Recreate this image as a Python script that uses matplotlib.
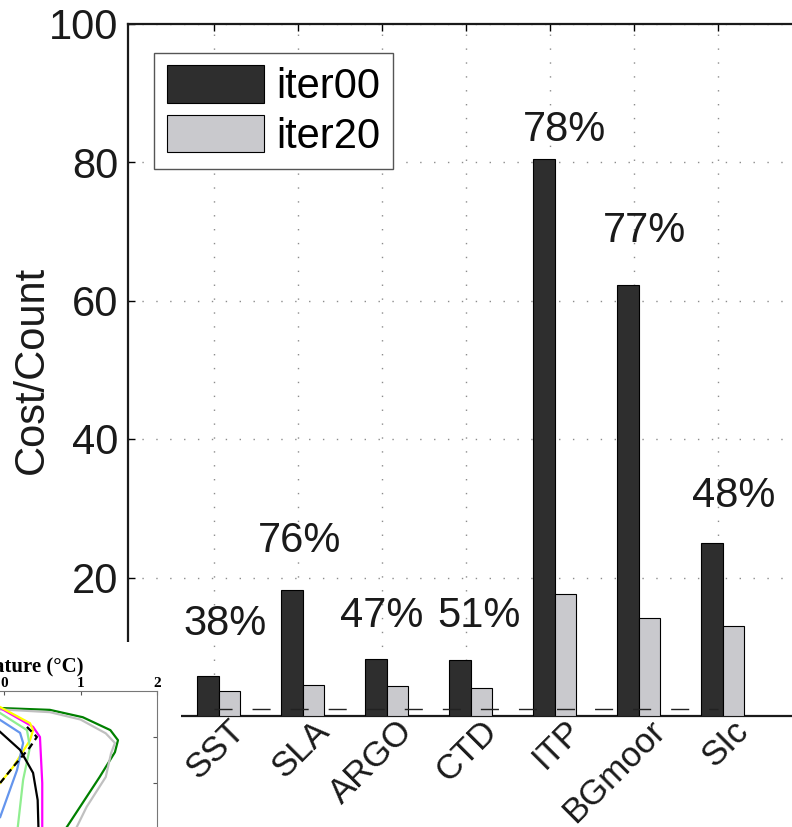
import numpy as np
import matplotlib
matplotlib.use('Agg')
import matplotlib.pyplot as plt
from matplotlib.patches import Rectangle
from matplotlib.transforms import ScaledTranslation

plt.rcParams['font.family'] = ['Liberation Sans', 'DejaVu Sans']

# data
categories = ['SST', 'SLA', 'ARGO', 'CTD', 'ITP', 'BGmoor', 'SIc']
iter00 = [5.8, 18.2, 8.2, 8.1, 80.4, 62.2, 25.0]
iter20 = [3.6, 4.5, 4.4, 4.0, 17.6, 14.2, 13.0]
reduction = ['38%', '76%', '47%', '51%', '78%', '77%', '48%']
ref_level = 1.0

# where the percentage labels sit (data coords)
label_x = [1.13, 2.02, 3.0, 4.15, 5.17, 6.13, 7.19]
label_y = [11.7, 23.7, 12.9, 12.9, 83.0, 68.4, 30.2]

# profile curves of the neighbouring figure (temperature, depth)
inset_curves = {
    'green':  ([-0.05, 0.60, 1.03, 1.39, 1.49, 1.45, 1.25, 0.82],
               [37, 41, 57, 85, 107, 133, 187, 296]),
    'silver': ([-0.05, 0.60, 1.00, 1.33, 1.45, 1.40, 1.33, 1.08, 0.95],
               [40, 46, 62, 92, 113, 135, 187, 252, 296]),
    'magenta': ([-0.05, 0.38, 0.47, 0.50, 0.50],
                [37, 78, 100, 200, 296]),
    'yellow': ([-0.05, 0.34, 0.38, 0.34, 0.12, -0.05],
               [35, 70, 85, 107, 165, 200]),
    'lightgreen': ([-0.05, 0.30, 0.34, 0.25, 0.18],
                   [48, 85, 122, 193, 296]),
    'cornflowerblue': ([-0.05, 0.21, 0.25, 0.17, -0.05],
                       [63, 91, 113, 172, 274]),
    'black': ([-0.05, 0.21, 0.38, 0.44, 0.45],
              [89, 128, 178, 237, 296]),
}
dashed_curve = ([0.30, 0.43, 0.34, 0.12, -0.05], [78, 100, 122, 165, 200])

W, H = 792, 827
fig = plt.figure(figsize=(W / 100, H / 100), dpi=100)
ax = fig.add_axes([128 / W, 1 - 716 / H, (802 - 128) / W, (716 - 23.5) / H])

x = np.arange(1, len(categories) + 1)
bw = 0.255
ax.bar(x - 0.07, iter00, bw, color='#2e2e2e', edgecolor='black', linewidth=0.8,
       label='iter00', zorder=3)
ax.bar(x + 0.185, iter20, bw, color='#c9c9cd', edgecolor='black', linewidth=0.8,
       label='iter20', zorder=3)
ax.plot([x[0], x[-1]], [ref_level, ref_level], color='#222222', lw=1.0,
        linestyle=(0, (13, 14.4)), zorder=4)

for xs, ys, txt in zip(label_x, label_y, reduction):
    ax.text(xs, ys, txt, ha='center', va='baseline', fontsize=30, color='#1a1a1a',
            zorder=5)

ax.set_xlim(-0.024, 8.0)
ax.set_ylim(0, 100)
ax.set_yticks(np.arange(0, 101, 20))
ax.set_xticks(x)
ax.set_xticklabels(categories, rotation=45, ha='right', rotation_mode='anchor',
                   color='#1a1a1a')
ax.tick_params(axis='both', direction='in', length=5, width=1, top=True, right=True,
               labelcolor='#1a1a1a')
ax.tick_params(axis='y', pad=7, labelsize=30)
ax.tick_params(axis='x', pad=0, labelsize=25)
shift = ScaledTranslation(0.14, 0.02, fig.dpi_scale_trans)
for lab in ax.get_xticklabels():
    lab.set_transform(lab.get_transform() + shift)
ax.set_ylabel('Cost/Count', fontsize=30, color='#1a1a1a')
ax.yaxis.set_label_coords(-0.113, 0.5)
ax.grid(True, color='#8c8c8c', linestyle=(0, (1, 9)), linewidth=1.0, zorder=0)
ax.set_axisbelow(True)
for s in ax.spines.values():
    s.set_linewidth(1.6)
    s.set_color('#1a1a1a')

leg = ax.legend(loc='upper left', bbox_to_anchor=(154 / W, 1 - 53 / H),
                bbox_transform=fig.transFigure, borderaxespad=0, fontsize=30,
                handlelength=2.33, handleheight=1.0, handletextpad=0.3,
                borderpad=0.3, labelspacing=0.18, fancybox=False, framealpha=1)
leg.get_frame().set_edgecolor('#555555')
leg.get_frame().set_linewidth(1.0)

# corner of the neighbouring figure that overlaps this one
fig.add_artist(Rectangle((0, 0), 181 / W, 1 - 642 / H, transform=fig.transFigure,
                         facecolor='white', edgecolor='none', zorder=1))
ax2 = fig.add_axes([-149 / W, 1 - 875 / H, 306 / W, 184 / H], zorder=2)
for name, (tx, dz) in inset_curves.items():
    ax2.plot(tx, dz, color=name, lw=1.6)
ax2.plot(*dashed_curve, color='black', lw=1.6, linestyle=(0, (3, 2)))
ax2.set_xlim(-2, 2)
ax2.set_ylim(400, 0)
ax2.set_xticks([-2, -1, 0, 1, 2])
ax2.set_yticks([100, 200, 300])
ax2.xaxis.tick_top()
ax2.xaxis.set_label_position('top')
ax2.yaxis.tick_right()
ax2.tick_params(direction='in', length=3, width=0.8, labelright=False,
                labelsize=11, pad=1, colors='#555555', labelcolor='black')
for lab in ax2.get_xticklabels():
    lab.set_family(['Liberation Serif', 'DejaVu Serif'])
    lab.set_fontweight('bold')
ax2.set_xlabel('Temperature (\u00b0C)', fontsize=15, fontweight='bold',
               family=['Liberation Serif', 'DejaVu Serif'], labelpad=3.5)
for s in ax2.spines.values():
    s.set_color('#777777')
    s.set_linewidth(0.8)

fig.savefig('out.png', dpi=100)
